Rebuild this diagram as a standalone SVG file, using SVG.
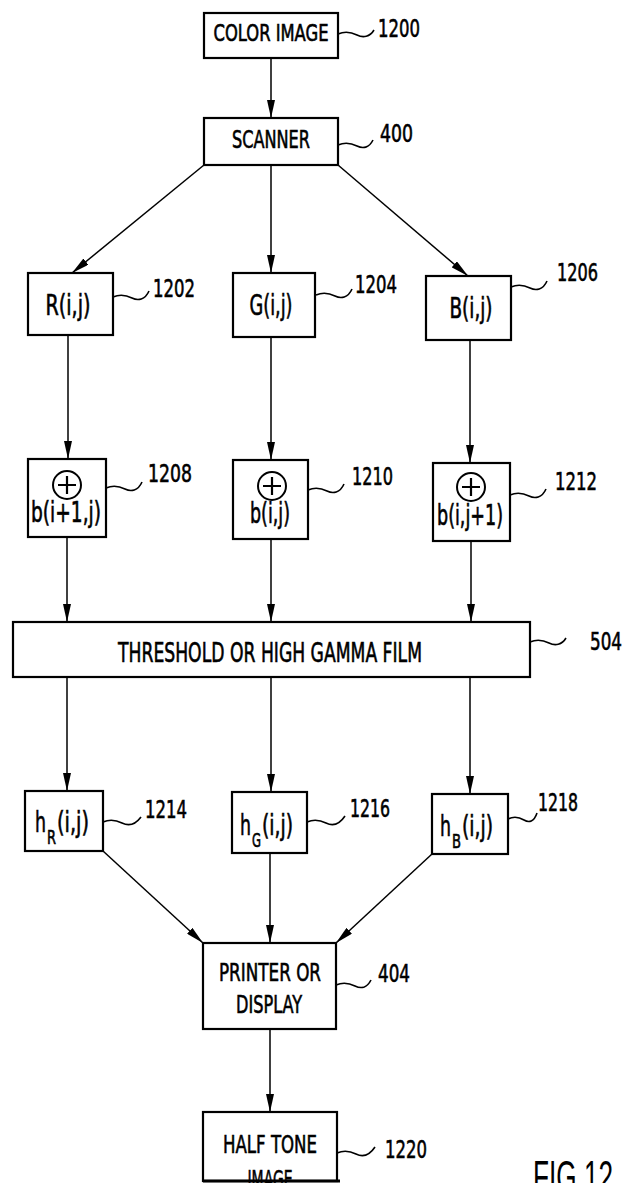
<svg xmlns="http://www.w3.org/2000/svg" width="625" height="1183" viewBox="0 0 625 1183">
<style>
.box{fill:#fff;stroke:#000;stroke-width:2.2}
.con{stroke:#000;stroke-width:1.5;fill:none}
.sq{stroke:#000;stroke-width:1.6;fill:none}
.t{font-family:"Liberation Sans Narrow","DejaVu Sans Condensed","Liberation Sans",sans-serif;fill:#000;stroke:#000;stroke-width:0.6}
.m{text-anchor:middle}
.lb{font-size:25px}
</style>
<defs>
<marker id="ah" markerUnits="userSpaceOnUse" markerWidth="18" markerHeight="8" refX="18" refY="4" orient="auto">
<path d="M0,0 L18,4 L0,8 z" fill="#000"/>
</marker>
</defs>
<rect width="625" height="1183" fill="#fff"/>
<g id="connectors">
<line class="con" x1="271" y1="58" x2="271" y2="118" marker-end="url(#ah)"/>
<line class="con" x1="204" y1="165" x2="72" y2="273" marker-end="url(#ah)"/>
<line class="con" x1="271" y1="165" x2="271" y2="273" marker-end="url(#ah)"/>
<line class="con" x1="338" y1="165" x2="468" y2="276" marker-end="url(#ah)"/>
<line class="con" x1="68" y1="335" x2="68" y2="459" marker-end="url(#ah)"/>
<line class="con" x1="271" y1="337" x2="271" y2="460" marker-end="url(#ah)"/>
<line class="con" x1="470" y1="340" x2="470" y2="463" marker-end="url(#ah)"/>
<line class="con" x1="67" y1="537" x2="67" y2="622" marker-end="url(#ah)"/>
<line class="con" x1="271" y1="539" x2="271" y2="622" marker-end="url(#ah)"/>
<line class="con" x1="471" y1="541" x2="471" y2="622" marker-end="url(#ah)"/>
<line class="con" x1="67" y1="677" x2="67" y2="791" marker-end="url(#ah)"/>
<line class="con" x1="271" y1="677" x2="271" y2="792" marker-end="url(#ah)"/>
<line class="con" x1="470" y1="677" x2="470" y2="794" marker-end="url(#ah)"/>
<line class="con" x1="103" y1="851" x2="203" y2="943" marker-end="url(#ah)"/>
<line class="con" x1="270" y1="853" x2="270" y2="943" marker-end="url(#ah)"/>
<line class="con" x1="432" y1="854" x2="336" y2="943" marker-end="url(#ah)"/>
<line class="con" x1="270" y1="1029" x2="270" y2="1112" marker-end="url(#ah)"/>
</g>
<g id="n1200">
<rect class="box" x="204" y="13" width="134" height="45"/>
<text class="t m" x="271" y="41" font-size="23" textLength="115" lengthAdjust="spacingAndGlyphs">COLOR IMAGE</text>
<path class="sq" d="M338,34 c7,-3 13,-2 19,1 c6,3 13,2 17,-5"/>
<text class="t lb" x="378" y="37" textLength="42" lengthAdjust="spacingAndGlyphs">1200</text>
</g>
<g id="n400">
<rect class="box" x="204" y="118" width="134" height="47"/>
<text class="t m" x="271" y="148" font-size="25" textLength="78" lengthAdjust="spacingAndGlyphs">SCANNER</text>
<path class="sq" d="M338,145 c7,-3 13,-2 19,1 c6,3 12,2 16,-6"/>
<text class="t lb" x="380" y="142" textLength="33" lengthAdjust="spacingAndGlyphs">400</text>
</g>
<g id="n1202">
<rect class="box" x="28" y="273" width="85" height="62"/>
<text class="t m" x="68" y="315" font-size="28" textLength="45" lengthAdjust="spacingAndGlyphs">R(i,j)</text>
<path class="sq" d="M113,297 c7,-3 13,-2 19,1 c6,3 13,2 17,-7"/>
<text class="t lb" x="153" y="297" textLength="42" lengthAdjust="spacingAndGlyphs">1202</text>
</g>
<g id="n1204">
<rect class="box" x="233" y="273" width="82" height="64"/>
<text class="t m" x="271" y="315" font-size="28" textLength="43" lengthAdjust="spacingAndGlyphs">G(i,j)</text>
<path class="sq" d="M316,295 c7,-3 13,-2 19,1 c6,3 13,2 17,-7"/>
<text class="t lb" x="355" y="293" textLength="42" lengthAdjust="spacingAndGlyphs">1204</text>
</g>
<g id="n1206">
<rect class="box" x="426" y="276" width="85" height="64"/>
<text class="t m" x="471" y="318" font-size="28" textLength="43" lengthAdjust="spacingAndGlyphs">B(i,j)</text>
<path class="sq" d="M511,287 c7,-3 13,-2 19,1 c6,3 13,2 17,-7"/>
<text class="t lb" x="557" y="281" textLength="41" lengthAdjust="spacingAndGlyphs">1206</text>
</g>
<g id="n1208">
<rect class="box" x="28" y="459" width="78" height="78"/>
<circle cx="67" cy="485" r="14" fill="none" stroke="#000" stroke-width="2"/>
<path d="M67,476 v18 M58,485 h18" stroke="#000" stroke-width="2.2" fill="none"/>
<text class="t m" x="66" y="522" font-size="28" textLength="70" lengthAdjust="spacingAndGlyphs">b(i+1,j)</text>
<path class="sq" d="M106,488 c7,-3 13,-2 19,1 c6,3 13,2 17,-7"/>
<text class="t lb" x="148" y="482" textLength="44" lengthAdjust="spacingAndGlyphs">1208</text>
</g>
<g id="n1210">
<rect class="box" x="233" y="460" width="75" height="79"/>
<circle cx="272" cy="486" r="14" fill="none" stroke="#000" stroke-width="2"/>
<path d="M272,477 v18 M263,486 h18" stroke="#000" stroke-width="2.2" fill="none"/>
<text class="t m" x="270" y="523" font-size="28" textLength="40" lengthAdjust="spacingAndGlyphs">b(i,j)</text>
<path class="sq" d="M308,490 c7,-3 13,-2 19,1 c6,3 13,2 17,-7"/>
<text class="t lb" x="352" y="485" textLength="41" lengthAdjust="spacingAndGlyphs">1210</text>
</g>
<g id="n1212">
<rect class="box" x="433" y="463" width="77" height="78"/>
<circle cx="471" cy="487" r="14" fill="none" stroke="#000" stroke-width="2"/>
<path d="M471,478 v18 M462,487 h18" stroke="#000" stroke-width="2.2" fill="none"/>
<text class="t m" x="470" y="525" font-size="28" textLength="66" lengthAdjust="spacingAndGlyphs">b(i,j+1)</text>
<path class="sq" d="M510,495 c7,-3 13,-2 19,1 c6,3 13,2 17,-7"/>
<text class="t lb" x="555" y="490" textLength="42" lengthAdjust="spacingAndGlyphs">1212</text>
</g>
<g id="n504">
<rect class="box" x="13" y="622" width="517" height="55"/>
<text class="t m" x="270" y="662" font-size="27" textLength="304" lengthAdjust="spacingAndGlyphs">THRESHOLD OR HIGH GAMMA FILM</text>
<path class="sq" d="M530,642 c7,-3 13,-2 19,1 c6,3 13,2 17,-5"/>
<text class="t lb" x="590" y="650" textLength="32" lengthAdjust="spacingAndGlyphs">504</text>
</g>
<g id="n1214">
<rect class="box" x="25" y="791" width="78" height="60"/>
<text class="t" x="35" y="832" font-size="28" textLength="11" lengthAdjust="spacingAndGlyphs">h</text>
<text class="t" x="47" y="844" font-size="20" textLength="9" lengthAdjust="spacingAndGlyphs">R</text>
<text class="t" x="57" y="832" font-size="28" textLength="32" lengthAdjust="spacingAndGlyphs">(i,j)</text>
<path class="sq" d="M103,822 c7,-3 13,-2 19,1 c6,3 13,2 19,-6"/>
<text class="t lb" x="145" y="818" textLength="42" lengthAdjust="spacingAndGlyphs">1214</text>
</g>
<g id="n1216">
<rect class="box" x="232" y="792" width="75" height="61"/>
<text class="t" x="240" y="835" font-size="28" textLength="11" lengthAdjust="spacingAndGlyphs">h</text>
<text class="t" x="252" y="847" font-size="20" textLength="9" lengthAdjust="spacingAndGlyphs">G</text>
<text class="t" x="262" y="835" font-size="28" textLength="31" lengthAdjust="spacingAndGlyphs">(i,j)</text>
<path class="sq" d="M307,822 c7,-3 13,-2 19,1 c6,3 13,2 19,-7"/>
<text class="t lb" x="350" y="817" textLength="40" lengthAdjust="spacingAndGlyphs">1216</text>
</g>
<g id="n1218">
<rect class="box" x="432" y="794" width="76" height="60"/>
<text class="t" x="440" y="836" font-size="28" textLength="11" lengthAdjust="spacingAndGlyphs">h</text>
<text class="t" x="452" y="848" font-size="20" textLength="9" lengthAdjust="spacingAndGlyphs">B</text>
<text class="t" x="462" y="836" font-size="28" textLength="31" lengthAdjust="spacingAndGlyphs">(i,j)</text>
<path class="sq" d="M508,819 c6,-3 11,-2 16,1 c5,3 10,2 13,-7"/>
<text class="t lb" x="538" y="811" textLength="40" lengthAdjust="spacingAndGlyphs">1218</text>
</g>
<g id="n404">
<rect class="box" x="203" y="943" width="133" height="86"/>
<text class="t m" x="270" y="981" font-size="25" textLength="102" lengthAdjust="spacingAndGlyphs">PRINTER OR</text>
<text class="t m" x="269" y="1013" font-size="25" textLength="66" lengthAdjust="spacingAndGlyphs">DISPLAY</text>
<path class="sq" d="M336,985 c7,-3 13,-2 19,1 c6,3 12,2 16,-6"/>
<text class="t lb" x="378" y="982" textLength="32" lengthAdjust="spacingAndGlyphs">404</text>
</g>
<g id="n1220">
<rect class="box" x="203" y="1112" width="134" height="69"/>
<text class="t m" x="270" y="1153" font-size="25" textLength="94" lengthAdjust="spacingAndGlyphs">HALF TONE</text>
<text class="t m" x="270" y="1188" font-size="25" textLength="45" lengthAdjust="spacingAndGlyphs">IMAGE</text>
<line x1="203" y1="1181" x2="340" y2="1181" stroke="#000" stroke-width="3"/>
<path class="sq" d="M337,1153 c7,-3 13,-2 19,1 c6,3 13,2 19,-7"/>
<text class="t lb" x="385" y="1158" textLength="42" lengthAdjust="spacingAndGlyphs">1220</text>
</g>
<g id="caption">
<text x="533" y="1192" font-family="Liberation Sans, DejaVu Sans, sans-serif" font-size="44" textLength="80" lengthAdjust="spacingAndGlyphs">FIG 12</text>
</g>
</svg>
